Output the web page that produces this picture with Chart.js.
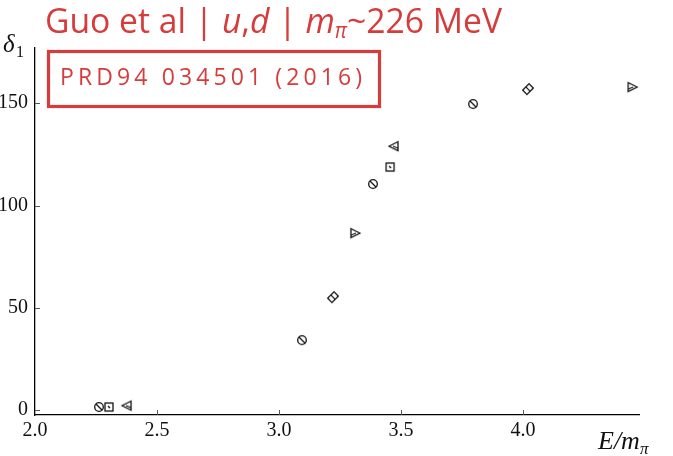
<!DOCTYPE html>
<html>
<head>
<meta charset="utf-8">
<script src="https://cdn.jsdelivr.net/npm/chart.js@4.4.1/dist/chart.umd.min.js"></script>
<style>
  html, body { margin: 0; padding: 0; background: #fff; }
  canvas { display: block; }
</style>
</head>
<body>
<canvas id="phaseChart" width="673" height="456"></canvas>
<script>
// tick positions
const xTicks = [2.0, 2.5, 3.0, 3.5, 4.0];
const yTicks = [0, 50, 100, 150];

// phase shift points, one pair of arrays per marker shape
const circleE = [2.262, 3.094, 3.385, 3.795];
const circleDelta = [1.5, 34.2, 110.5, 149.6];
const squareE = [2.303, 3.455];
const squareDelta = [1.5, 118.8];
const leftTriE = [2.377, 3.471];
const leftTriDelta = [2.2, 129.0];
const rightTriE = [3.311, 4.447];
const rightTriDelta = [86.5, 157.9];
const diamondE = [3.221, 4.020];
const diamondDelta = [55.2, 156.9];

const RED = '#d63c3c';
const INK = '#111';

function toPoints(xs, ys) {
    return xs.map((x, i) => ({ x: x, y: ys[i] }));
}

// small hand-drawn markers used as point styles
function marker(draw) {
    const c = document.createElement('canvas');
    c.width = 14; c.height = 14;
    const g = c.getContext('2d');
    g.strokeStyle = INK;
    g.lineWidth = 1.3;
    g.translate(7, 7);
    draw(g);
    return c;
}

const circleMark = marker(g => {
    g.beginPath(); g.arc(0, 0, 4.3, 0, Math.PI * 2); g.stroke();
    g.beginPath(); g.moveTo(-3, -3); g.lineTo(3, 3); g.stroke();
});
const squareMark = marker(g => {
    g.strokeRect(-4, -4, 8, 8);
    g.beginPath(); g.moveTo(-1, -1); g.lineTo(1, 1); g.stroke();
});
const leftTriMark = marker(g => {
    g.beginPath(); g.moveTo(-5, 0); g.lineTo(4, -4.5); g.lineTo(4, 4.5); g.closePath(); g.stroke();
    g.beginPath(); g.moveTo(-1, 0); g.lineTo(4, 2); g.stroke();
});
const rightTriMark = marker(g => {
    g.beginPath(); g.moveTo(5, 0); g.lineTo(-4, -4.5); g.lineTo(-4, 4.5); g.closePath(); g.stroke();
    g.beginPath(); g.moveTo(1, 0); g.lineTo(-4, 2); g.stroke();
});
const diamondMark = marker(g => {
    g.rotate(-Math.PI / 4);
    g.strokeRect(-4.5, -3, 9, 6);
    g.beginPath(); g.moveTo(0, -3); g.lineTo(0, 3); g.stroke();
});

function series(label, xs, ys, style) {
    return {
        label: label,
        data: toPoints(xs, ys),
        pointStyle: style,
        pointRadius: 6,
        pointHoverRadius: 6,
        clip: false
    };
}

// title, reference box, axis labels and inward tick marks
const decorations = {
    id: 'decorations',
    afterDraw(chart) {
        const ctx = chart.ctx;
        const xs = chart.scales.x, ys = chart.scales.y;
        const area = chart.chartArea;
        ctx.save();

        // inward ticks
        ctx.strokeStyle = '#555';
        ctx.lineWidth = 1;
        xTicks.forEach(v => {
            const px = Math.round(xs.getPixelForValue(v)) + 0.5;
            if (v === xs.min) return;
            ctx.beginPath(); ctx.moveTo(px, area.bottom); ctx.lineTo(px, area.bottom - 5); ctx.stroke();
        });
        yTicks.forEach(v => {
            const py = Math.round(ys.getPixelForValue(v)) + 0.5;
            ctx.beginPath(); ctx.moveTo(area.left, py); ctx.lineTo(area.left + 5, py); ctx.stroke();
        });

        // title line with italic pieces
        const parts = [
            ['Guo et al | ', ''], ['u', 'italic '], [',', ''], ['d', 'italic '],
            [' | ', ''], ['m', 'italic '], ['\u03c0', 'italic sub'], ['~226 MeV', '']
        ];
        const fam = '"Open Sans", sans-serif';
        const size = 35;
        let w = 0;
        parts.forEach(p => {
            const sub = p[1].includes('sub');
            ctx.font = (p[1].replace('sub', '')) + (sub ? size * 0.6 : size) + 'px ' + fam;
            w += ctx.measureText(p[0]).width;
        });
        const targetW = 457;
        ctx.fillStyle = RED;
        ctx.textBaseline = 'alphabetic';
        ctx.save();
        ctx.translate(45, 33);
        ctx.scale(targetW / w, 1);
        let x = 0;
        parts.forEach(p => {
            const sub = p[1].includes('sub');
            ctx.font = (p[1].replace('sub', '')) + (sub ? size * 0.6 : size) + 'px ' + fam;
            ctx.fillText(p[0], x, sub ? 5 : 0);
            x += ctx.measureText(p[0]).width;
        });
        ctx.restore();

        // reference box
        ctx.strokeStyle = RED;
        ctx.lineWidth = 3.2;
        ctx.strokeRect(48.5, 51.5, 331, 55);
        const ref = 'PRD94 034501 (2016)';
        ctx.font = '500 23px "Open Sans", sans-serif';
        let plain = 0;
        for (const ch of ref) plain += ctx.measureText(ch).width;
        const gap = (302 - plain) / (ref.length - 1);
        let cx = 60;
        for (const ch of ref) {
            ctx.fillText(ch, cx, 85);
            cx += ctx.measureText(ch).width + gap;
        }

        // axis labels
        ctx.fillStyle = INK;
        ctx.font = 'italic 25px "Liberation Serif", serif';
        ctx.fillText('\u03b4', 3, 52);
        ctx.font = '16px "Liberation Serif", serif';
        ctx.fillText('1', 16, 57);

        ctx.font = 'italic 26px "Liberation Serif", serif';
        ctx.fillText('E/m', 598, 449);
        const mw = ctx.measureText('E/m').width;
        ctx.font = 'italic 17px "Liberation Serif", serif';
        ctx.fillText('\u03c0', 598 + mw, 454);

        ctx.restore();
    }
};

const tickFont = { family: '"Liberation Serif", serif', size: 20 };

new Chart(document.getElementById('phaseChart'), {
    type: 'scatter',
    data: {
        datasets: [
            series('circle', circleE, circleDelta, circleMark),
            series('square', squareE, squareDelta, squareMark),
            series('left triangle', leftTriE, leftTriDelta, leftTriMark),
            series('right triangle', rightTriE, rightTriDelta, rightTriMark),
            series('diamond', diamondE, diamondDelta, diamondMark)
        ]
    },
    options: {
        responsive: false,
        animation: false,
        devicePixelRatio: 1,
        layout: { padding: { top: 48, right: 34, left: 0, bottom: 0 } },
        plugins: {
            legend: { display: false },
            tooltip: { enabled: false }
        },
        scales: {
            x: {
                type: 'linear',
                min: 2.0,
                max: 4.475,
                grid: { display: false, drawTicks: false },
                border: { display: true, color: '#000', width: 1.3 },
                afterBuildTicks: s => { s.ticks = xTicks.map(v => ({ value: v })); },
                afterFit: s => { s.height = 41; },
                ticks: {
                    color: INK,
                    font: tickFont,
                    padding: 4,
                    maxRotation: 0,
                    callback: v => v.toFixed(1)
                }
            },
            y: {
                type: 'linear',
                min: -2.4,
                max: 177,
                grid: { display: false, drawTicks: false },
                border: { display: true, color: '#000', width: 1.3 },
                afterBuildTicks: s => { s.ticks = yTicks.map(v => ({ value: v })); },
                afterFit: s => { s.width = 35; },
                ticks: {
                    color: INK,
                    font: tickFont,
                    padding: 7,
                    callback: v => String(v)
                }
            }
        }
    },
    plugins: [decorations]
});
</script>
</body>
</html>
